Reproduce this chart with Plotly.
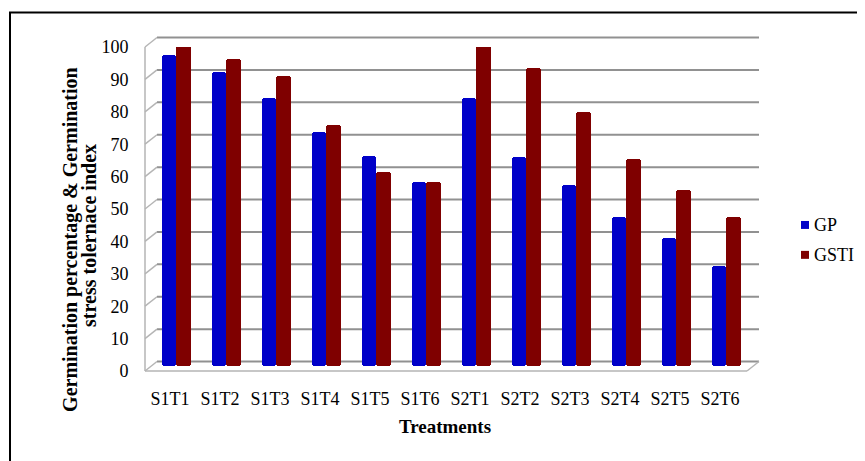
import plotly.graph_objects as go

treatments = ["S1T1", "S1T2", "S1T3", "S1T4", "S1T5", "S1T6",
              "S2T1", "S2T2", "S2T3", "S2T4", "S2T5", "S2T6"]
gp = [96, 91, 83, 72.5, 65, 57, 83, 64.5, 56, 46, 39.5, 31]
gsti = [99.5, 95, 89.5, 74.5, 60, 57, 99.5, 92, 78.5, 64, 54.5, 46]
y_ticks = [0, 10, 20, 30, 40, 50, 60, 70, 80, 90, 100]
series_names = ["GP", "GSTI"]
series_colors = ["#0000C8", "#7F0000"]
y_title_lines = ["Germination percentage & Germination", "stress tolernace index"]

# the page body adds an 8px margin; work in screen pixels and shift
OFF = 8
W, H = 910, 470                   # a bit larger than the window
L, R = 145 - OFF, 745 - OFF       # plot area in figure pixels (x)
T, B = 46.5 - OFF, 371.5 - OFF    # plot area in figure pixels (y)


def px(x):  # screen x -> paper
    return (x - OFF - L) / (R - L)


def py(y):  # screen y -> paper
    return (B - (y - OFF)) / (B - T)


font = "Liberation Serif"
fig = go.Figure()
fig.add_trace(go.Bar(x=treatments, y=gp, name=series_names[0], base=1.4,
                     offset=-0.16, width=0.28,
                     marker=dict(color=series_colors[0], cornerradius=3, line=dict(width=0))))
fig.add_trace(go.Bar(x=treatments, y=gsti, name=series_names[1], base=1.4,
                     offset=0.12, width=0.30,
                     marker=dict(color=series_colors[1], cornerradius=3, line=dict(width=0))))

shapes = []
grid_col = "#919191"
wall_col = "#b5b5b5"
scale = 3.25
for v in y_ticks:
    yb = 362 - scale * v
    yf = 371.5 - scale * v
    shapes.append(dict(type="line", xref="paper", yref="paper",
                       x0=px(157), x1=px(759), y0=py(yb), y1=py(yb),
                       line=dict(color=grid_col, width=2), layer="below"))
    shapes.append(dict(type="line", xref="paper", yref="paper",
                       x0=px(145), x1=px(157), y0=py(yf), y1=py(yb),
                       line=dict(color=wall_col, width=1.5), layer="below"))
shapes.append(dict(type="line", xref="paper", yref="paper",
                   x0=px(145), x1=px(145), y0=py(371.5), y1=py(46.5),
                   line=dict(color=wall_col, width=1.5), layer="below"))
shapes.append(dict(type="line", xref="paper", yref="paper",
                   x0=px(145), x1=px(747), y0=py(371.5), y1=py(371.5),
                   line=dict(color=wall_col, width=1.5), layer="below"))
shapes.append(dict(type="line", xref="paper", yref="paper",
                   x0=px(747), x1=px(759), y0=py(371.5), y1=py(362),
                   line=dict(color=wall_col, width=1.5), layer="below"))
shapes.append(dict(type="rect", xref="paper", yref="paper",
                   x0=px(10), x1=px(895), y0=py(12), y1=py(490),
                   line=dict(color="black", width=2), layer="below"))

annotations = [
    dict(text="<b>%s</b>" % y_title_lines[0], xref="paper", yref="paper",
         x=px(71), y=py(240), xanchor="center", yanchor="middle", textangle=-90,
         showarrow=False, font=dict(family=font, size=20, color="black")),
    dict(text="<b>%s</b>" % y_title_lines[1], xref="paper", yref="paper",
         x=px(89), y=py(236), xanchor="center", yanchor="middle", textangle=-90,
         showarrow=False, font=dict(family=font, size=20, color="black")),
]

# legend drawn by hand (square key + label) to match the reference placement
legend_rows = [225, 255]
for name, color, yc in zip(series_names, series_colors, legend_rows):
    shapes.append(dict(type="rect", xref="paper", yref="paper",
                       x0=px(801), x1=px(809), y0=py(yc - 4), y1=py(yc + 4),
                       fillcolor=color, line=dict(width=0)))
    annotations.append(dict(text=name, xref="paper", yref="paper",
                            x=px(812), y=py(yc), xanchor="left", yanchor="middle",
                            showarrow=False,
                            font=dict(family=font, size=18, color="black")))

fig.update_layout(
    width=W, height=H, autosize=False,
    margin=dict(l=L, r=W - R, t=T, b=H - B, pad=0),
    paper_bgcolor="white", plot_bgcolor="rgba(0,0,0,0)",
    barmode="overlay", bargap=0,
    font=dict(family=font, size=18, color="black"),
    shapes=shapes,
    showlegend=False,
    annotations=annotations,
)
fig.update_xaxes(range=[-0.5, 11.5], showgrid=False, showline=False, zeroline=False,
                 ticks="outside", ticklen=11, tickcolor="rgba(0,0,0,0)",
                 tickfont=dict(family=font, size=18),
                 title=dict(text="<b>Treatments</b>", standoff=12,
                            font=dict(family=font, size=19)))
fig.update_yaxes(range=[0, 100], tickvals=y_ticks, showgrid=False, showline=False,
                 zeroline=False, ticks="outside", ticklen=12,
                 tickcolor="rgba(0,0,0,0)", tickfont=dict(family=font, size=18))

fig.write_html("out.html")
